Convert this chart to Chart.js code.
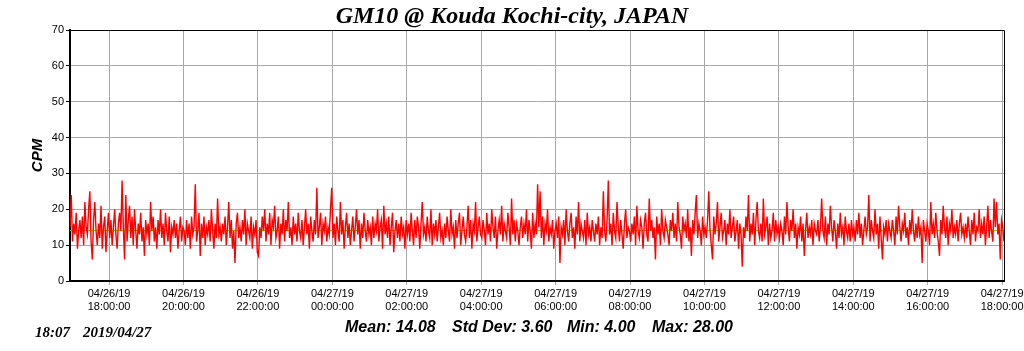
<!DOCTYPE html>
<html>
<head>
<meta charset="utf-8">
<script src="https://cdn.jsdelivr.net/npm/chart.js@4/dist/chart.umd.min.js"></script>
<style>
  body { margin: 0; background: #fff; }
  #wrap { position: relative; width: 1024px; height: 351px; }
  .note { position: absolute; white-space: pre; font-weight: bold; font-style: italic; color: #000; }
  .stat { font-family: 'Liberation Sans', Arial, sans-serif; font-size: 16px; top: 318px; }
  .stamp { font-family: 'Liberation Serif', 'Times New Roman', serif; font-size: 15px; top: 324px; }
</style>
</head>
<body>
<div id="wrap">
  <canvas id="chart"></canvas>
  <span class="note stamp" style="left:35px">18:07</span>
  <span class="note stamp" style="left:83px">2019/04/27</span>
  <span class="note stat" style="left:345px">Mean: 14.08</span>
  <span class="note stat" style="left:452px">Std Dev: 3.60</span>
  <span class="note stat" style="left:567px">Min: 4.00</span>
  <span class="note stat" style="left:652px">Max: 28.00</span>
</div>
<script>
// minutes relative to 04/26/19 18:00:00, one reading every 2 minutes
const START_MIN = -63;
const STEP_MIN = 2;
const X_MIN = -63;
const X_MAX = 1443;
const MEAN = 14.08;

// tick labels every 2 hours
const tickDates = ['04/26/19', '04/26/19', '04/26/19', '04/27/19', '04/27/19', '04/27/19', '04/27/19',
  '04/27/19', '04/27/19', '04/27/19', '04/27/19', '04/27/19', '04/27/19'];
const tickTimes = ['18:00:00', '20:00:00', '22:00:00', '00:00:00', '02:00:00', '04:00:00', '06:00:00',
  '08:00:00', '10:00:00', '12:00:00', '14:00:00', '16:00:00', '18:00:00'];

// CPM readings
const cpm = [
  // 16:57 - 17:59
  15,24,11,16,13,19,9,14,17,12,18,10,22,15,13,20,25,11,6,17,22,14,10,16,12,21,9,15,18,8,14,19,
  // 18:00
  12,17,10,15,20,13,9,16,19,14,28,15,6,24,11,17,21,12,18,10,20,14,9,16,13,19,11,15,7,17,
  13,16,10,22,14,18,11,15,9,17,13,20,12,16,10,19,14,11,18,8,15,13,17,12,16,9,14,18,11,15,
  // 20:00
  14,10,17,12,16,9,18,13,15,27,11,14,19,7,16,12,18,10,15,13,17,11,20,14,9,16,12,23,13,15,
  11,16,13,18,10,15,22,12,17,9,14,5,16,19,12,15,11,17,13,20,10,16,14,12,18,9,15,13,17,8,
  // 22:00
  7,15,12,18,14,20,11,16,13,19,10,17,15,21,12,14,18,9,16,13,20,11,17,14,22,12,15,10,18,13,
  16,11,19,14,12,17,10,15,20,13,16,9,18,14,11,17,13,26,12,15,19,10,16,14,18,11,15,13,20,26,
  // 00:00
  12,16,10,18,14,11,22,13,17,9,15,19,12,16,10,14,18,11,15,20,13,17,9,16,12,19,14,11,17,13,
  15,10,18,12,16,14,20,11,15,17,9,21,13,16,12,18,10,15,19,8,14,17,12,16,11,18,13,15,9,17,
  // 02:00
  13,16,11,19,14,10,17,12,18,15,9,16,22,13,15,11,18,14,12,20,10,16,13,17,11,15,19,12,14,10,
  16,12,18,14,11,20,13,15,9,17,12,16,19,10,14,18,13,11,15,21,12,17,9,16,14,22,11,15,18,13,
  // 04:00
  12,17,14,10,19,13,16,11,20,15,12,18,9,14,17,13,21,11,16,14,12,19,15,10,23,13,17,11,16,14,
  10,15,18,12,16,13,20,11,17,14,9,19,12,16,13,27,15,25,12,18,10,16,14,20,11,15,13,17,9,14,
  // 06:00
  16,12,18,5,15,13,17,10,20,14,11,16,19,12,15,9,18,13,22,11,16,14,12,17,10,19,13,15,11,17,
  14,11,16,13,18,10,15,12,25,14,11,17,28,13,16,10,19,14,12,22,15,11,17,13,9,16,20,12,15,14,
  // 08:00
  11,16,13,18,10,21,14,12,17,15,9,16,19,13,11,23,14,17,12,15,6,18,13,16,10,20,14,12,17,15,
  13,10,17,14,19,12,16,11,22,15,13,9,18,14,16,12,20,11,15,7,17,13,19,24,12,16,14,10,18,13,
  // 10:00
  15,12,17,25,14,10,6,18,13,16,22,11,15,19,12,14,17,10,16,13,20,12,15,18,11,14,17,9,16,13,
  4,15,12,18,14,24,11,16,13,19,10,17,22,14,12,16,11,23,13,15,18,10,16,12,14,19,11,17,13,15,
  // 12:00
  12,16,14,10,18,13,22,15,11,17,14,20,12,16,9,15,13,18,11,16,7,14,19,12,15,13,17,10,16,14,
  13,17,11,15,23,14,12,18,10,16,13,21,15,11,17,14,9,16,12,19,13,15,10,18,14,12,16,11,17,13,
  // 14:00
  15,11,17,13,19,12,16,10,14,18,13,15,24,11,17,14,12,20,13,16,9,18,12,6,15,13,17,11,16,14,
  12,17,14,10,18,13,21,15,11,16,14,19,12,15,10,17,13,20,14,11,16,12,18,13,15,5,17,14,11,16,
  // 16:00
  14,10,22,13,16,12,19,14,11,7,17,13,21,15,12,18,10,16,14,20,12,15,13,17,11,16,19,13,15,12,
  16,12,18,14,10,17,13,19,11,15,14,20,12,16,13,18,10,15,21,12,17,14,11,23,15,22,13,16,6,17,
  // 18:00
  15,11
];

// top and right frame of the plot
const frame = {
  id: 'frame',
  afterDraw(chart) {
    const { ctx, chartArea: a } = chart;
    ctx.save();
    ctx.strokeStyle = '#000';
    ctx.lineWidth = 1;
    ctx.beginPath();
    ctx.moveTo(a.left, a.top + 0.5);
    ctx.lineTo(a.right + 0.5, a.top + 0.5);
    ctx.lineTo(a.right + 0.5, a.bottom);
    ctx.stroke();
    ctx.restore();
  },
};

new Chart(document.getElementById('chart'), {
  type: 'line',
  data: {
    datasets: [
      {
        label: 'CPM',
        data: cpm.map((v, i) => ({ x: START_MIN + i * STEP_MIN, y: v })),
        borderColor: '#ff0000',
        borderWidth: 1.4,
        pointRadius: 0,
        tension: 0,
        order: 1,
      },
      {
        label: 'Mean',
        data: [{ x: X_MIN, y: MEAN }, { x: X_MAX, y: MEAN }],
        borderColor: '#b0b800',
        borderWidth: 1,
        pointRadius: 0,
        order: 2,
      },
    ],
  },
  options: {
    responsive: true,
    maintainAspectRatio: false,
    animation: false,
    layout: { padding: 0 },
    plugins: {
      legend: { display: false },
      tooltip: { enabled: false },
      title: {
        display: true,
        text: 'GM10 @ Kouda Kochi-city, JAPAN',
        color: '#000',
        font: { family: "'Liberation Serif', 'Times New Roman', serif", size: 24, weight: 'bold', style: 'italic', lineHeight: 1.0 },
        padding: { top: 5, bottom: 1 },
      },
    },
    scales: {
      x: {
        type: 'linear',
        min: X_MIN,
        max: X_MAX,
        afterBuildTicks: (axis) => {
          axis.ticks = tickTimes.map((t, i) => ({ value: i * 120 }));
        },
        afterFit: (scale) => {
          scale.height = 70;
          scale.paddingLeft = 0;
          scale.paddingRight = 20;
        },
        ticks: {
          autoSkip: false,
          maxRotation: 0,
          padding: 2,
          color: '#000',
          font: { family: "'Liberation Sans', Arial, sans-serif", size: 11 },
          callback: (value) => {
            const i = Math.round(value / 120);
            return [tickDates[i], tickTimes[i]];
          },
        },
        grid: { color: '#a8a8a8', lineWidth: 1, tickLength: 4, tickColor: '#a8a8a8' },
        border: { color: '#000', width: 2 },
      },
      y: {
        min: 0,
        max: 70,
        afterFit: (scale) => {
          scale.width = 70;
          scale.paddingTop = 0;
          scale.paddingBottom = 0;
        },
        ticks: {
          stepSize: 10,
          padding: 2,
          color: '#000',
          font: { family: "'Liberation Sans', Arial, sans-serif", size: 11 },
        },
        title: {
          display: true,
          text: 'CPM',
          color: '#000',
          font: { family: "'Liberation Sans', Arial, sans-serif", size: 15, weight: 'bold', style: 'italic' },
          padding: { top: 29, bottom: 0 },
        },
        grid: { color: '#a8a8a8', lineWidth: 1, tickLength: 4, tickColor: '#000' },
        border: { color: '#000', width: 2 },
      },
    },
  },
  plugins: [frame],
});
</script>
</body>
</html>
